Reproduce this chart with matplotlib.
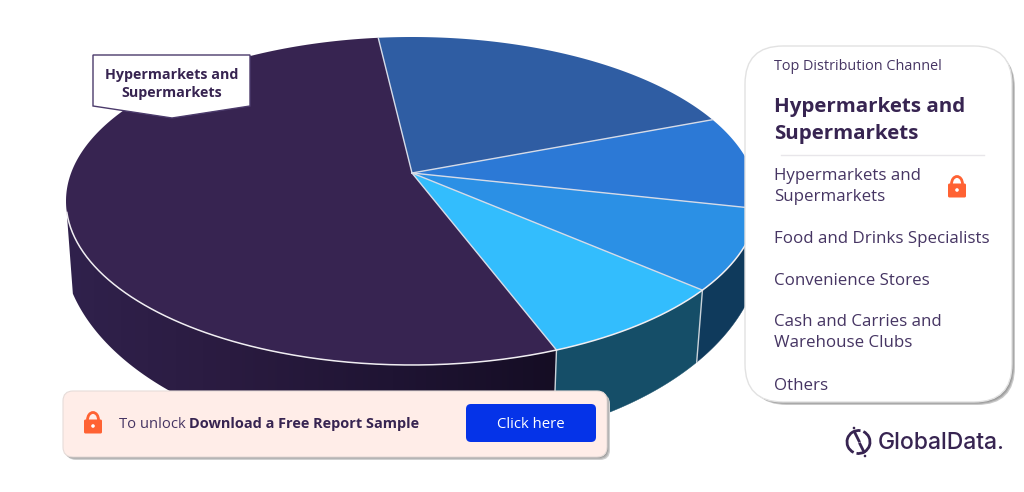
import matplotlib
matplotlib.use('Agg')
import matplotlib.pyplot as plt
import numpy as np
from matplotlib.patches import FancyBboxPatch, Polygon, Arc, Circle

plt.rcParams['font.family'] = ['Open Sans', 'DejaVu Sans']

# shares of the pie, in drawing order (from the start angle)
channels = ['Hypermarkets and Supermarkets', 'Others', 'Cash and Carries and Warehouse Clubs',
            'Convenience Stores', 'Food and Drinks Specialists']
shares = [55.3, 9.0, 8.4, 9.0, 18.3]
top_colors = ['#372451', '#33bdfd', '#2b90e5', '#2c79d6', '#2f5da3']
wall_colors = ['#2a1b42', '#154e68', '#0f3a5c', '#0f3a5c', '#0f3a5c']
wall_dark = ['#30214c', '#2a1b40', '#1f1433', '#150d24']
start_angle = 95.6

panel_title = 'Top Distribution Channel'
panel_top = ['Hypermarkets and', 'Supermarkets']
panel_items = [(['Hypermarkets and', 'Supermarkets'], 175), (['Food and Drinks Specialists'], 238),
               (['Convenience Stores'], 280), (['Cash and Carries and', 'Warehouse Clubs'], 321),
               (['Others'], 385)]
TEXT = '#463563'
DARK = '#372451'
ORANGE = '#ff6233'

fig = plt.figure(figsize=(10.24, 4.92), dpi=100)
ax = fig.add_axes([0, 0, 1, 1])


def top_pt(t):
    t = np.radians(t)
    return 412 + 346 * np.cos(t), 201 - 164 * np.sin(t)


def bottom_pt(t):
    t = np.radians(t)
    c = 0.969 * np.cos(t)
    return 412 + 350 * c, 243 + 205 * np.sqrt(1 - c ** 2)


def round_box(x0, y0, x1, y1, r, fc, ec='none', lw=0, z=5):
    p = FancyBboxPatch((x0 + r, y0 + r), x1 - x0 - 2 * r, y1 - y0 - 2 * r,
                       boxstyle='round,pad=%f,rounding_size=%f' % (r, r),
                       fc=fc, ec=ec, lw=lw, zorder=z)
    ax.add_patch(p)
    return p


def lock(cx, cy, s=1.0):
    ax.add_patch(Arc((cx, cy - 3 * s), 11 * s, 15 * s, theta1=180, theta2=360, ec=ORANGE, lw=2.0 * s, zorder=9))
    round_box(cx - 9 * s, cy - 3.5 * s, cx + 9 * s, cy + 10.5 * s, 1.5 * s, ORANGE, z=9)
    ax.add_patch(Circle((cx, cy + 3 * s), 1.8 * s, fc='white', ec='none', zorder=10))


# slice edges in the angle of the ellipse
edges = start_angle + np.cumsum([0] + shares) * 3.6

# side wall first, only the front half of the rim has one
for i in range(len(shares)):
    ts = np.linspace(edges[i], edges[i + 1], 200)
    ts = ts[np.mod(ts, 360) >= 180]
    if len(ts) == 0:
        continue
    tx, ty = top_pt(ts)
    bx, by = bottom_pt(ts)
    poly = np.column_stack([np.r_[tx, bx[::-1]], np.r_[ty, by[::-1]]])
    if i == 0:
        clip = Polygon(poly, closed=True, fc='none', ec='none', zorder=1)
        ax.add_patch(clip)
        stops = np.array([matplotlib.colors.to_rgb(c) for c in wall_dark])
        xs = np.linspace(0, 1, 256)
        grad = np.column_stack([np.interp(xs, np.linspace(0, 1, 4), stops[:, k]) for k in range(3)])[None, :, :]
        im = ax.imshow(grad, extent=[poly[:, 0].min(), poly[:, 0].max(), 492, 0], aspect='auto', zorder=1)
        im.set_clip_path(clip)
    else:
        ax.add_patch(Polygon(poly, closed=True, fc=wall_colors[i], ec=wall_colors[i], lw=0.3, zorder=1))
    # light line where two walls meet
    if i > 0:
        ax.plot([tx[0], bx[0]], [ty[0], by[0]], color='#c9d3da', lw=1, zorder=2)

# top of the pie, apex sits above the ellipse centre
for i in range(len(shares)):
    ts = np.linspace(edges[i], edges[i + 1], 200)
    x, y = top_pt(ts)
    poly = np.column_stack([np.r_[412, x], np.r_[173, y]])
    ax.add_patch(Polygon(poly, closed=True, fc=top_colors[i], ec='none', zorder=3))
for e in edges[:-1]:
    x, y = top_pt(e)
    ax.plot([412, x], [173, y], color='#d5dbe8', lw=1, zorder=4)
ts = np.linspace(184, 360, 300)
x, y = top_pt(ts)
ax.plot(x, y, color='#f0eef2', lw=1.1, zorder=4)

# callout
ax.add_patch(Polygon([(93, 55), (250, 55), (250, 106), (172, 118), (93, 106)], closed=True,
                     fc='white', ec='#4b3a6b', lw=1, zorder=5))
ax.text(172, 75, 'Hypermarkets and', ha='center', va='center', fontsize=10.3, fontweight='bold', color=DARK, zorder=6)
ax.text(172, 93, 'Supermarkets', ha='center', va='center', fontsize=10.3, fontweight='bold', color=DARK, zorder=6)

# right panel
for off, c in [(3, '#c9c9c9'), (2, '#a9a9a9'), (1, '#8f8f8f')]:
    round_box(746 + off, 47 + off, 1012 + off, 402 + off, 38, c, z=5)
round_box(745, 46, 1012, 402, 38, 'white', ec='#e2e2e2', lw=1, z=6)
ax.text(774, 67, panel_title, va='center', fontsize=10.4, color=TEXT, zorder=7)
ax.text(774, 107, panel_top[0], va='center', fontsize=14.75, fontweight='bold', color=DARK, zorder=7)
ax.text(774, 134, panel_top[1], va='center', fontsize=14.75, fontweight='bold', color=DARK, zorder=7)
ax.plot([781, 984], [155, 155], color='#e8e6ea', lw=1, zorder=7)
for lines, y in panel_items:
    for k, s in enumerate(lines):
        ax.text(774, y + 1 + k * 21, s, va='center', fontsize=12.2, color=TEXT, zorder=7)
lock(957, 187, 1.0)

# unlock card
for off, c in [(3, '#d0d0d0'), (2, '#b5b5b5'), (1, '#9a9a9a')]:
    round_box(63 + off, 391 + off, 607 + off, 457 + off, 10, c, z=7)
round_box(63, 391, 607, 457, 10, '#ffede8', ec='#e6dcd9', lw=0.8, z=8)
lock(93, 423, 1.0)
ax.text(119, 424, 'To unlock', va='center', fontsize=10.7, color=TEXT, zorder=9)
ax.text(189, 424, 'Download a Free Report Sample', va='center', fontsize=10.45, fontweight='bold', color=DARK, zorder=9)
round_box(466, 404, 596, 442, 5, '#0533e8', z=9)
ax.text(531, 424, 'Click here', ha='center', va='center', fontsize=10.7, color='white', zorder=10)

# logo
ax.add_patch(Arc((858.5, 442), 23, 23, theta1=295, theta2=100, ec=DARK, lw=2, zorder=5))
ax.add_patch(Arc((858.5, 442), 23, 23, theta1=115, theta2=280, ec=DARK, lw=2, zorder=5))
ax.plot([855, 859], [433, 441], color=DARK, lw=2, zorder=5)
ax.plot([860, 864], [444, 452], color=DARK, lw=2, zorder=5)
ax.add_patch(Circle((854, 428), 1.3, fc=DARK, ec='none'))
ax.add_patch(Circle((865, 456), 1.3, fc=DARK, ec='none'))
ax.text(878, 443, 'GlobalData.', va='center', fontsize=16.5, fontweight=500, family='Inter', color=DARK, zorder=5)

ax.set_xlim(0, 1024)
ax.set_ylim(492, 0)
ax.axis('off')
fig.savefig('out.png', dpi=100, facecolor='white')
